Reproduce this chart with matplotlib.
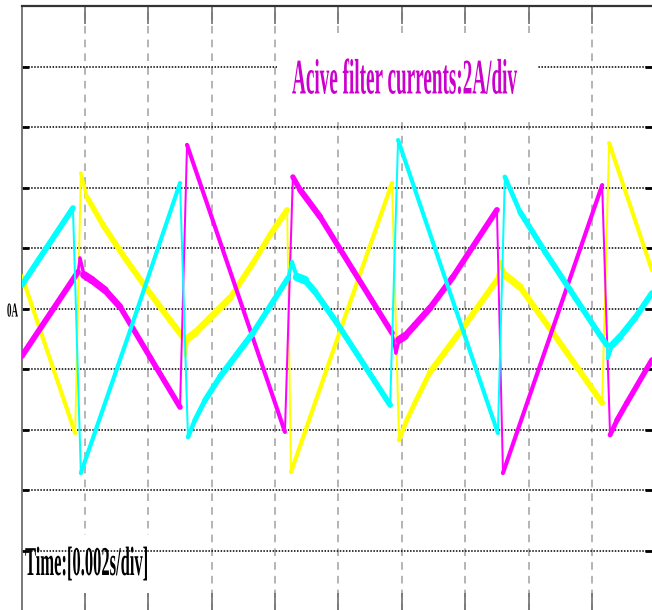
import numpy as np
import matplotlib
matplotlib.use("Agg")
import matplotlib.pyplot as plt
from matplotlib.collections import LineCollection
from matplotlib.patches import Rectangle
from matplotlib.patheffects import AbstractPathEffect
from matplotlib.transforms import Affine2D

# active filter phase currents, time in ms, current in A
t_yellow = [0.01, 1.69, 1.87, 2.06, 2.57, 3.26, 4.05, 4.68, 5.09, 5.16, 5.25, 5.47,
            5.95, 6.58, 7.30, 7.84, 8.38, 8.50, 10.05, 11.69, 11.91, 12.13, 12.41,
            12.89, 13.99, 15.00, 15.10, 15.25, 15.73, 16.77, 18.32, 18.54, 19.89]
i_yellow = [1.07, -4.12, 4.48, 3.69, 2.76, 1.67, 0.51, -0.38, -0.94, -1.57, -0.98, -0.81,
            -0.31, 0.35, 1.50, 2.43, 3.26, -5.41, -0.74, 4.15, -4.35, -3.75, -3.12,
            -2.10, -0.55, 0.94, 1.54, 1.11, 0.71, -0.81, -3.12, 5.47, 1.27]

t_magenta = [0.01, 1.78, 1.84, 1.97, 2.22, 2.63, 3.11, 4.05, 5.00, 5.22, 8.31, 8.56,
             8.79, 9.42, 10.46, 11.69, 11.81, 11.91, 12.10, 12.41, 12.89, 13.61,
             15.00, 15.19, 18.32, 18.57, 18.79, 19.10, 19.89]
i_magenta = [-1.57, 1.21, 1.67, 1.11, 0.94, 0.61, 0.05, -1.60, -3.26, 5.41, -4.08, 4.35,
             3.92, 3.03, 1.27, -0.81, -1.47, -1.04, -0.91, -0.55, 0.02, 1.04,
             3.26, -5.44, 4.08, -4.18, -3.69, -3.12, -1.70]

t_cyan = [0.01, 1.62, 1.87, 3.42, 5.00, 5.25, 5.47, 5.79, 6.26, 7.30, 8.41, 8.53, 8.69,
          8.94, 9.26, 9.95, 11.63, 11.88, 15.03, 15.25, 15.73, 16.52, 17.31, 18.25,
          18.47, 18.50, 18.63, 18.88, 19.36, 19.89]
i_cyan = [0.78, 3.32, -5.44, -0.74, 4.15, -4.25, -3.69, -3.03, -2.26, -0.81, 1.01, 1.54,
          1.04, 0.94, 0.55, -0.48, -3.19, 5.57, -4.12, 4.35, 3.19, 1.87, 0.61, -0.88,
          -1.21, -1.64, -1.21, -0.94, -0.31, 0.51]

grid_ms = [2, 4, 6, 8, 10, 12, 14, 16, 18]
grid_amp = [-8, -6, -4, -2, 0, 2, 4, 6, 8]

serif = ["Liberation Serif", "DejaVu Serif"]


class Stretch(AbstractPathEffect):
    """Scale glyph outlines about the text origin (tall scope lettering)."""

    def __init__(self, sx=1.0, sy=1.0):
        super().__init__()
        self._scale = Affine2D().scale(sx, sy)

    def draw_path(self, renderer, gc, tpath, affine, rgbFace=None):
        renderer.draw_path(gc, tpath, self._scale + affine, rgbFace)


def trace(ax, t, i, color, z):
    # ripple band: flat parts look fat, steep edges and jumps stay thin
    pts = np.column_stack([t, i])
    disp = ax.transData.transform(pts)
    d = np.diff(disp, axis=0)
    cos = np.abs(d[:, 0]) / np.hypot(d[:, 0], d[:, 1])
    lw = (1.8 + 7.2 * cos) * 72.0 / ax.figure.dpi
    segs = np.stack([pts[:-1], pts[1:]], axis=1)
    lc = LineCollection(segs, linewidths=lw, colors=color,
                        capstyle="round", zorder=z)
    ax.add_collection(lc)


def main():
    fig = plt.figure(figsize=(6.52, 6.10), dpi=100)
    ax = fig.add_axes([21.6 / 652, -1 / 610, 630.4 / 652, 605 / 610])
    ax.set_xlim(0, 19.893)
    ax.set_ylim(-10, 10)

    ax.set_xticks(grid_ms)
    ax.set_yticks(grid_amp)
    ax.tick_params(axis="x", direction="in", length=13, width=1.2,
                   color="#707070", top=True, bottom=True,
                   labelbottom=False, labeltop=False)
    ax.tick_params(axis="y", direction="in", length=5, width=2,
                   color="black", left=True, right=True,
                   labelleft=False, labelright=False)
    ax.xaxis.grid(True, color="#a0a0a0", lw=1.1, ls=(0, (5, 4)))
    ax.yaxis.grid(True, color="black", lw=1.1, ls=(0, (1, 1)))
    ax.xaxis.set_zorder(0.5)
    ax.yaxis.set_zorder(1.5)

    for side in ("right", "bottom"):
        ax.spines[side].set_visible(False)
    ax.spines["left"].set_color("#6e6e6e")
    ax.spines["left"].set_linewidth(1.3)
    ax.spines["top"].set_color("#333333")
    ax.spines["top"].set_linewidth(1.6)

    trace(ax, t_yellow, i_yellow, "#ffff00", 3)
    trace(ax, t_magenta, i_magenta, "#ff00ff", 4)
    trace(ax, t_cyan, i_cyan, "#00ffff", 5)

    # caption panels
    ax.add_patch(Rectangle((0.405, 0.815), 0.413, 0.14, transform=ax.transAxes,
                           fc="white", ec="none", zorder=2))
    ax.add_patch(Rectangle((0.0, 0.03), 0.207, 0.096, transform=ax.transAxes,
                           fc="white", ec="none", zorder=1))

    ax.text(0.429, 0.8554, "Acive filter currents:2A/div", transform=ax.transAxes,
            ha="left", va="baseline", fontsize=13.8, fontweight="bold",
            family=serif, color="#cc00cc", zorder=2.5,
            path_effects=[Stretch(1.0, 2.6)])
    ax.text(0.0054, 0.0595, "Time:[0.002s/div]", transform=ax.transAxes,
            ha="left", va="baseline", fontsize=11.9, fontweight="bold",
            family=serif, color="black", zorder=1.2,
            path_effects=[Stretch(1.0, 2.48)])
    ax.annotate("0A", xy=(0, 0), xycoords=("axes fraction", "data"),
                xytext=(-2.6, -5.8), textcoords="offset points",
                ha="right", va="baseline", fontsize=6.5, fontweight="bold",
                family=serif, color="black", annotation_clip=False,
                path_effects=[Stretch(1.0, 2.2)])

    fig.savefig("out.png", dpi=100)


if __name__ == "__main__":
    main()
